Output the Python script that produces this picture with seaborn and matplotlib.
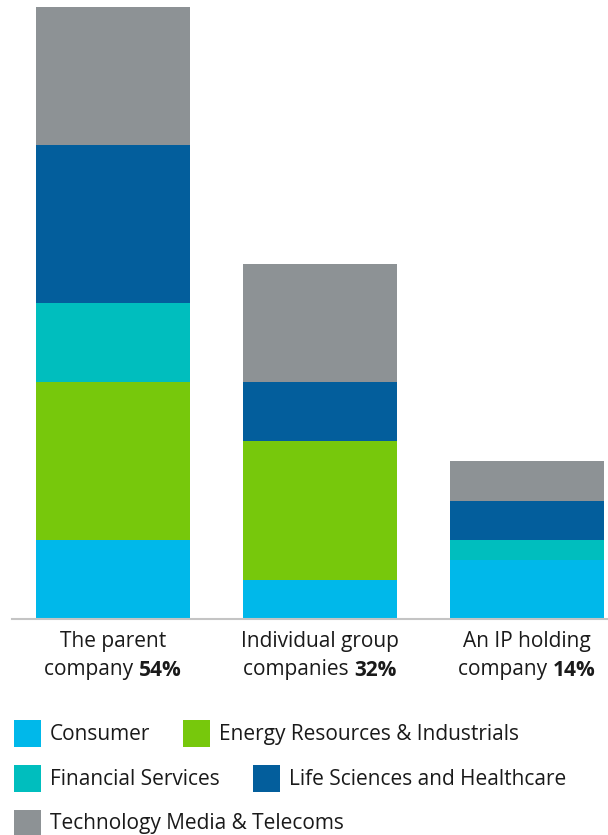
import matplotlib
matplotlib.use("Agg")
import matplotlib.pyplot as plt
from matplotlib.patches import Rectangle
import seaborn as sns
import pandas as pd
import numpy as np

# Number of companies per sector, by where the IP is held
groups = ["The parent", "Individual group", "An IP holding"]
group_line2 = ["company", "companies", "company"]
shares = ["54%", "32%", "14%"]
sectors = ["Consumer", "Energy Resources & Industrials", "Financial Services",
           "Life Sciences and Healthcare", "Technology Media & Telecoms"]
consumer = [4, 2, 3]
energy = [8, 7, 0]
financial = [4, 0, 1]
life_sciences = [8, 3, 2]
technology = [7, 6, 2]
colors = ["#00b8ea", "#77c80c", "#00bebe", "#035e9c", "#8d9295"]

series = [consumer, energy, financial, life_sciences, technology]

sns.set_theme(style="white")
plt.rcParams["font.family"] = ["Open Sans", "DejaVu Sans"]

W, H = 608, 835
fig = plt.figure(figsize=(W / 100, H / 100), dpi=100)
ax_left, ax_right, ax_top, ax_bottom = 12, 608, 0, 619
ax = fig.add_axes([ax_left / W, 1 - ax_bottom / H,
                   (ax_right - ax_left) / W, (ax_bottom - ax_top) / H])

rows = []
for name, vals in zip(sectors, series):
    for g, v in zip(groups, vals):
        rows.append({"group": g, "sector": name, "count": v})
df = pd.DataFrame(rows)

bottom = np.zeros(len(groups))
for name, vals, col in zip(sectors, series, colors):
    sub = df[df["sector"] == name]
    sns.barplot(data=sub, x="group", y="count", color=col, width=0.744,
                bottom=bottom, ax=ax, saturation=1, linewidth=0, errorbar=None)
    bottom = bottom + np.array(vals)

ax.set_xlim(-0.488, 2.391)
ax.set_ylim(0, 31.35)
for s in ["top", "right", "left"]:
    ax.spines[s].set_visible(False)
ax.spines["bottom"].set_color("#c4c4c4")
ax.spines["bottom"].set_linewidth(1.5)
ax.set_xticks([])
ax.set_yticks([])
ax.set_xlabel("")
ax.set_ylabel("")

fs = 15
tc = "#1a1a1a"
fig.canvas.draw()
renderer = fig.canvas.get_renderer()
centers_px = [113, 320, 527]
for cx, l1, l2, sh in zip(centers_px, groups, group_line2, shares):
    fig.text(cx / W, 1 - 642 / H, l1, ha="center", va="center", fontsize=fs, color=tc)
    t1 = fig.text(0, 0, l2 + " ", fontsize=fs, color=tc)
    t2 = fig.text(0, 0, sh, fontsize=fs, color=tc, fontweight="bold")
    w1 = t1.get_window_extent(renderer).width
    w2 = t2.get_window_extent(renderer).width
    x0 = cx - (w1 + w2) / 2
    t1.set_position((x0 / W, 1 - 670 / H)); t1.set_va("center")
    t2.set_position(((x0 + w1) / W, 1 - 670 / H)); t2.set_va("center")

# Legend laid out in rows of flowing entries
legend_rows = [[0, 1], [2, 3], [4]]
row_y = [733.5, 778.5, 823]
sq = 27
for r, y in zip(legend_rows, row_y):
    x = 14
    for i in r:
        fig.patches.append(Rectangle((x / W, 1 - (y + sq / 2) / H), sq / W, sq / H,
                                     transform=fig.transFigure, facecolor=colors[i],
                                     edgecolor="none"))
        t = fig.text((x + sq + 9) / W, 1 - (y + 1) / H, sectors[i], fontsize=fs,
                     color=tc, va="center", ha="left")
        w = t.get_window_extent(renderer).width
        x = x + sq + 9 + w + 33

fig.savefig("out.png", dpi=100, facecolor="white")
